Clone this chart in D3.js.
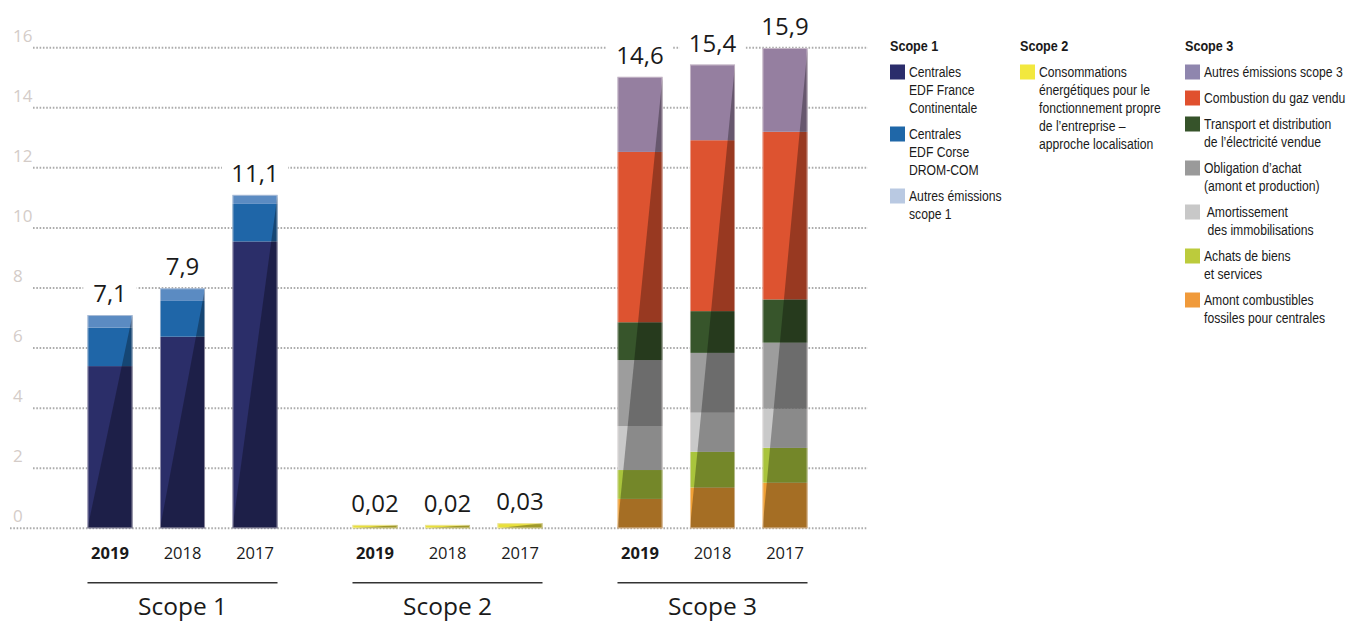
<!DOCTYPE html>
<html>
<head>
<meta charset="utf-8">
<script src="https://cdn.jsdelivr.net/npm/d3@7"></script>
<style>
  html, body { margin: 0; padding: 0; background: #fff; }
  svg { display: block; }
</style>
</head>
<body>
<svg id="chart" width="1353" height="623"></svg>
<script>
// ---------------- DATA ----------------
const years = ["2019", "2018", "2017"];
const scopes = ["Scope 1", "Scope 2", "Scope 3"];
const yTicks = [0, 2, 4, 6, 8, 10, 12, 14, 16];

// Scope 1 (bottom to top)
const centralesFrance = [5.40, 6.38, 9.55];
const centralesCorse  = [1.28, 1.19, 1.25];
const autresScope1    = [0.42, 0.42, 0.30];
// Scope 2
const consommations   = [0.02, 0.02, 0.03];
// Scope 3 (bottom to top)
const amontCombustibles = [0.98, 1.36, 1.52];
const achatsBiens       = [0.96, 1.19, 1.16];
const amortissement     = [1.46, 1.30, 1.30];
const obligationAchat   = [2.20, 1.99, 2.20];
const transportDistrib  = [1.26, 1.39, 1.44];
const combustionGaz     = [5.67, 5.69, 5.58];
const autresScope3      = [2.50, 2.52, 2.79];

const totalLabels = {
  "Scope 1": ["7,1", "7,9", "11,1"],
  "Scope 2": ["0,02", "0,02", "0,03"],
  "Scope 3": ["14,6", "15,4", "15,9"]
};

const series = {
  "Scope 1": [
    { key: "france", values: centralesFrance, color: "#2b2e69" },
    { key: "corse", values: centralesCorse, color: "#1f66a8" },
    { key: "autres1", values: autresScope1, color: "#5b8bc2" }
  ],
  "Scope 2": [
    { key: "conso", values: consommations, color: "#e8e03a" }
  ],
  "Scope 3": [
    { key: "amont", values: amontCombustibles, color: "#f0a035" },
    { key: "achats", values: achatsBiens, color: "#a9c43c" },
    { key: "amort", values: amortissement, color: "#c9c9c9" },
    { key: "oblig", values: obligationAchat, color: "#9d9d9d" },
    { key: "transport", values: transportDistrib, color: "#37552b" },
    { key: "gaz", values: combustionGaz, color: "#dd5330" },
    { key: "autres3", values: autresScope3, color: "#957fa0" }
  ]
};

const legendColumns = [
  { title: "Scope 1", items: [
    { color: "#2b2d6b", lines: ["Centrales", "EDF France", "Continentale"] },
    { color: "#1f67a8", lines: ["Centrales", "EDF Corse", "DROM-COM"] },
    { color: "#b9c9e2", lines: ["Autres émissions", "scope 1"] }
  ]},
  { title: "Scope 2", items: [
    { color: "#f2e83e", lines: ["Consommations", "énergétiques pour le", "fonctionnement propre", "de l’entreprise –", "approche localisation"] }
  ]},
  { title: "Scope 3", items: [
    { color: "#8f86ae", lines: ["Autres émissions scope 3"] },
    { color: "#e0502e", lines: ["Combustion du gaz vendu"] },
    { color: "#36532a", lines: ["Transport et distribution", "de l’électricité vendue"] },
    { color: "#9a9a9a", lines: ["Obligation d’achat", "(amont et production)"] },
    { color: "#c8c8c8", lines: [" Amortissement", " des immobilisations"] },
    { color: "#bccb3c", lines: ["Achats de biens", "et services"] },
    { color: "#f09a3a", lines: ["Amont combustibles", "fossiles pour centrales"] }
  ]}
];

// ---------------- LAYOUT ----------------
const svg = d3.select("#chart");
const baseFont = "'Open Sans', 'Noto Sans', sans-serif";
const legendFont = "'Liberation Sans', Arial, sans-serif";
const narrowScale = 0.87;

const y = d3.scaleLinear().domain([0, 16]).range([528.3, 47.7]);
const x0 = d3.scaleBand().domain(scopes).range([50, 845]).paddingInner(0);
const x1 = d3.scaleBand().domain(years).range([0, x0.bandwidth()])
  .paddingInner(0.379).paddingOuter(0.517);

// Gridlines
const grid = svg.append("g");
grid.selectAll("line").data(yTicks).join("line")
  .attr("x1", d => d === 0 ? 10 : 33)
  .attr("x2", 868)
  .attr("y1", d => y(d)).attr("y2", d => y(d))
  .attr("stroke", "#acacac")
  .attr("stroke-width", 2)
  .attr("stroke-dasharray", "1.6,1.7");

grid.selectAll("text").data(yTicks).join("text")
  .attr("x", 13)
  .attr("y", d => y(d) - 6)
  .attr("font-family", baseFont)
  .attr("font-size", 17)
  .attr("fill", "#d4ccc8")
  .text(d => d);

// Bars
const barsG = svg.append("g");
const labelsG = svg.append("g");

scopes.forEach(scope => {
  const list = series[scope];
  years.forEach((yr, i) => {
    const bx = x0(scope) + x1(yr);
    const bw = x1.bandwidth();
    let cum = 0;
    const segs = list.map(s => {
      const v = s.values[i];
      const seg = { y0: cum, y1: cum + v, color: s.color, v };
      cum += v;
      return seg;
    });
    const g = barsG.append("g");
    const isTiny = scope === "Scope 2";
    const yBase = y(0);
    segs.forEach(sg => {
      let top = y(sg.y1), bot = y(sg.y0);
      // very small values are drawn with a minimum visible thickness, as in the original
      if (isTiny) { top = yBase - Math.max(yBase - y(sg.y1), sg.v * 170); }
      sg.top = top; sg.bot = bot;
    });
    g.selectAll("rect").data(segs).join("rect")
      .attr("x", bx).attr("width", bw)
      .attr("y", d => d.top)
      .attr("height", d => Math.max(0, d.bot - d.top))
      .attr("fill", d => d.color);
    const barTop = d3.min(segs, d => d.top);
    // diagonal shading (darker right side)
    g.append("polygon")
      .attr("points", [[bx, yBase], [bx + bw, yBase], [bx + bw, barTop]].map(p => p.join(",")).join(" "))
      .attr("fill", "#000").attr("fill-opacity", 0.31);
    g.append("rect")
      .attr("x", bx + 0.5).attr("y", barTop + 0.5)
      .attr("width", bw - 1).attr("height", Math.max(0, yBase - barTop - 1))
      .attr("fill", "none").attr("stroke", "#f3ecec").attr("stroke-opacity", 0.5).attr("stroke-width", 1);

    // value label
    const cx = bx + bw / 2;
    const ly = barTop - 13;
    const lbl = totalLabels[scope][i];
    const tw = lbl.length * 12.5;
    labelsG.append("rect")
      .attr("x", cx - tw / 2 - 8).attr("y", ly - 20)
      .attr("width", tw + 16).attr("height", 26)
      .attr("fill", "#fff");
    labelsG.append("text")
      .attr("x", cx).attr("y", ly)
      .attr("text-anchor", "middle")
      .attr("font-family", baseFont)
      .attr("font-size", 24)
      .attr("fill", "#1a1a1a")
      .text(lbl);

    // year label
    labelsG.append("text")
      .attr("x", cx).attr("y", 559)
      .attr("text-anchor", "middle")
      .attr("font-family", baseFont)
      .attr("font-size", 16.5)
      .attr("font-weight", yr === "2019" ? 700 : 400)
      .attr("fill", "#1a1a1a")
      .text(yr);
  });
  const gx1 = x0(scope) + x1(years[0]);
  const gx2 = x0(scope) + x1(years[years.length - 1]) + x1.bandwidth();
  labelsG.append("line")
    .attr("x1", gx1).attr("x2", gx2)
    .attr("y1", 582.7).attr("y2", 582.7)
    .attr("stroke", "#333").attr("stroke-width", 1.5);
  labelsG.append("text")
    .attr("x", (gx1 + gx2) / 2).attr("y", 615)
    .attr("text-anchor", "middle")
    .attr("font-family", baseFont)
    .attr("font-size", 24.5)
    .attr("fill", "#1a1a1a")
    .text(scope);
});

// Legend
const legendX = [890, 1020, 1185];
const lineH = 18, itemGap = 8;
const legend = svg.append("g");
function narrowText(parent, x, yy, txt, size, weight) {
  return parent.append("text")
    .attr("transform", `translate(${x},${yy}) scale(${narrowScale},1)`)
    .attr("font-family", legendFont)
    .attr("font-size", size)
    .attr("font-weight", weight)
    .attr("fill", "#1a1a1a")
    .attr("xml:space", "preserve")
    .style("white-space", "pre")
    .text(txt);
}
legendColumns.forEach((col, ci) => {
  const lx = legendX[ci];
  narrowText(legend, lx, 51, col.title, 14.5, 700);
  let cy = 72;
  col.items.forEach(it => {
    legend.append("rect")
      .attr("x", lx).attr("y", cy - 7.5)
      .attr("width", 15).attr("height", 15)
      .attr("fill", it.color);
    it.lines.forEach((ln, li) => {
      narrowText(legend, lx + 19, cy + li * lineH + 5, ln, 14, 400);
    });
    cy += it.lines.length * lineH + itemGap;
  });
});
</script>
</body>
</html>
